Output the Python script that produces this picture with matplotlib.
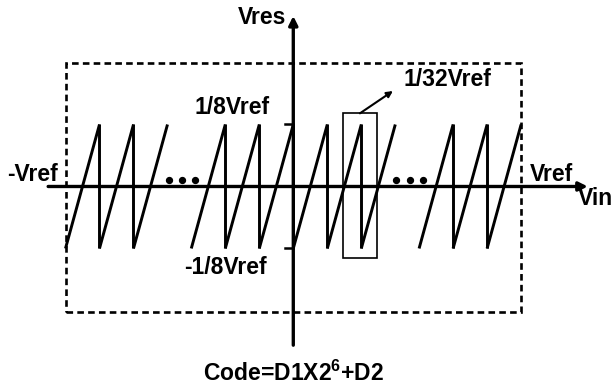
import numpy as np
import matplotlib
matplotlib.use('Agg')
import matplotlib.pyplot as plt
from matplotlib.patches import Rectangle

plt.rcParams['font.family'] = ['Liberation Sans', 'DejaVu Sans']
plt.rcParams['font.weight'] = 'bold'
plt.rcParams['mathtext.fontset'] = 'custom'
plt.rcParams['mathtext.rm'] = 'Liberation Sans:bold'
plt.rcParams['mathtext.it'] = 'Liberation Sans:bold'
plt.rcParams['mathtext.bf'] = 'Liberation Sans:bold'

# sawtooth peaks (x in units of one sub-range, y in units of Vref/8)
peaks = [-5.7, -4.7, -3.7, -2, -1, 0, 1, 2, 3, 4.7, 5.7, 6.7]
drops = [1, 1, 0, 1, 1, 1, 1, 1, 0, 1, 1, 0]
amp = 1.0

dots_left = [-3.67, -3.27, -2.88]
dots_right = [3.01, 3.43, 3.82]
dots_y = 0.1

region = (-6.69, -2.02, 6.70, 1.99)   # dashed box x0, y0, x1, y1
zoom_box = (1.47, -1.15, 2.47, 1.18)

fig = plt.figure(figsize=(6.13, 3.85), dpi=100)
ax = fig.add_axes([0, 0, 1, 1])
ax.set_xlim(-8.626, 9.403)
ax.set_ylim(-3.202, 3.008)
ax.axis('off')

# sawtooth
for p, d in zip(peaks, drops):
    ax.plot([p - 1, p], [-amp, amp], color='k', lw=2.1, solid_capstyle='butt')
    if d:
        ax.plot([p, p], [amp, -amp], color='k', lw=2.1, solid_capstyle='butt')

ax.scatter(dots_left + dots_right, [dots_y] * 6, s=18, color='k', zorder=3)

# axes with arrows
ax.annotate('', xy=(8.66, 0), xytext=(-7.21, 0),
            arrowprops=dict(arrowstyle='-|>', lw=2.4, color='k', mutation_scale=13,
                            shrinkA=0, shrinkB=0))
ax.annotate('', xy=(0, 2.75), xytext=(0, -2.56),
            arrowprops=dict(arrowstyle='-|>', lw=2.4, color='k', mutation_scale=13,
                            shrinkA=0, shrinkB=0))
for yt in (amp, -amp):
    ax.plot([-0.25, 0], [yt, yt], color='k', lw=1.8)

# dashed region
x0, y0, x1, y1 = region
ax.add_patch(Rectangle((x0, y0), x1 - x0, y1 - y0, fill=False, ec='k', lw=1.9,
                       ls=(0, (2.5, 1.6))))
bx0, by0, bx1, by1 = zoom_box
ax.add_patch(Rectangle((bx0, by0), bx1 - bx0, by1 - by0, fill=False, ec='k', lw=1.2))
ax.annotate('', xy=(2.93, 1.54), xytext=(1.96, 1.18),
            arrowprops=dict(arrowstyle='-|>', lw=1.5, color='k', mutation_scale=9,
                            shrinkA=0, shrinkB=0))

fs = 16.5
ax.text(-0.21, 2.72, 'Vres', ha='right', va='center', fontsize=fs, fontweight='bold')
ax.text(-0.69, 1.28, '1/8Vref', ha='right', va='center', fontsize=fs, fontweight='bold')
ax.text(-0.77, -1.30, '-1/8Vref', ha='right', va='center', fontsize=fs, fontweight='bold')
ax.text(-6.92, 0.19, '-Vref', ha='right', va='center', fontsize=fs, fontweight='bold')
ax.text(6.96, 0.19, 'Vref', ha='left', va='center', fontsize=fs, fontweight='bold')
ax.text(8.37, -0.19, 'Vin', ha='left', va='center', fontsize=fs, fontweight='bold')
ax.text(3.23, 1.72, '1/32Vref', ha='left', va='center', fontsize=fs, fontweight='bold')
ax.text(0, -3.01, 'Code=D1X2$^{6}$+D2', ha='center', va='center', fontsize=fs,
        fontweight='bold')

fig.savefig('out.png', dpi=100)
